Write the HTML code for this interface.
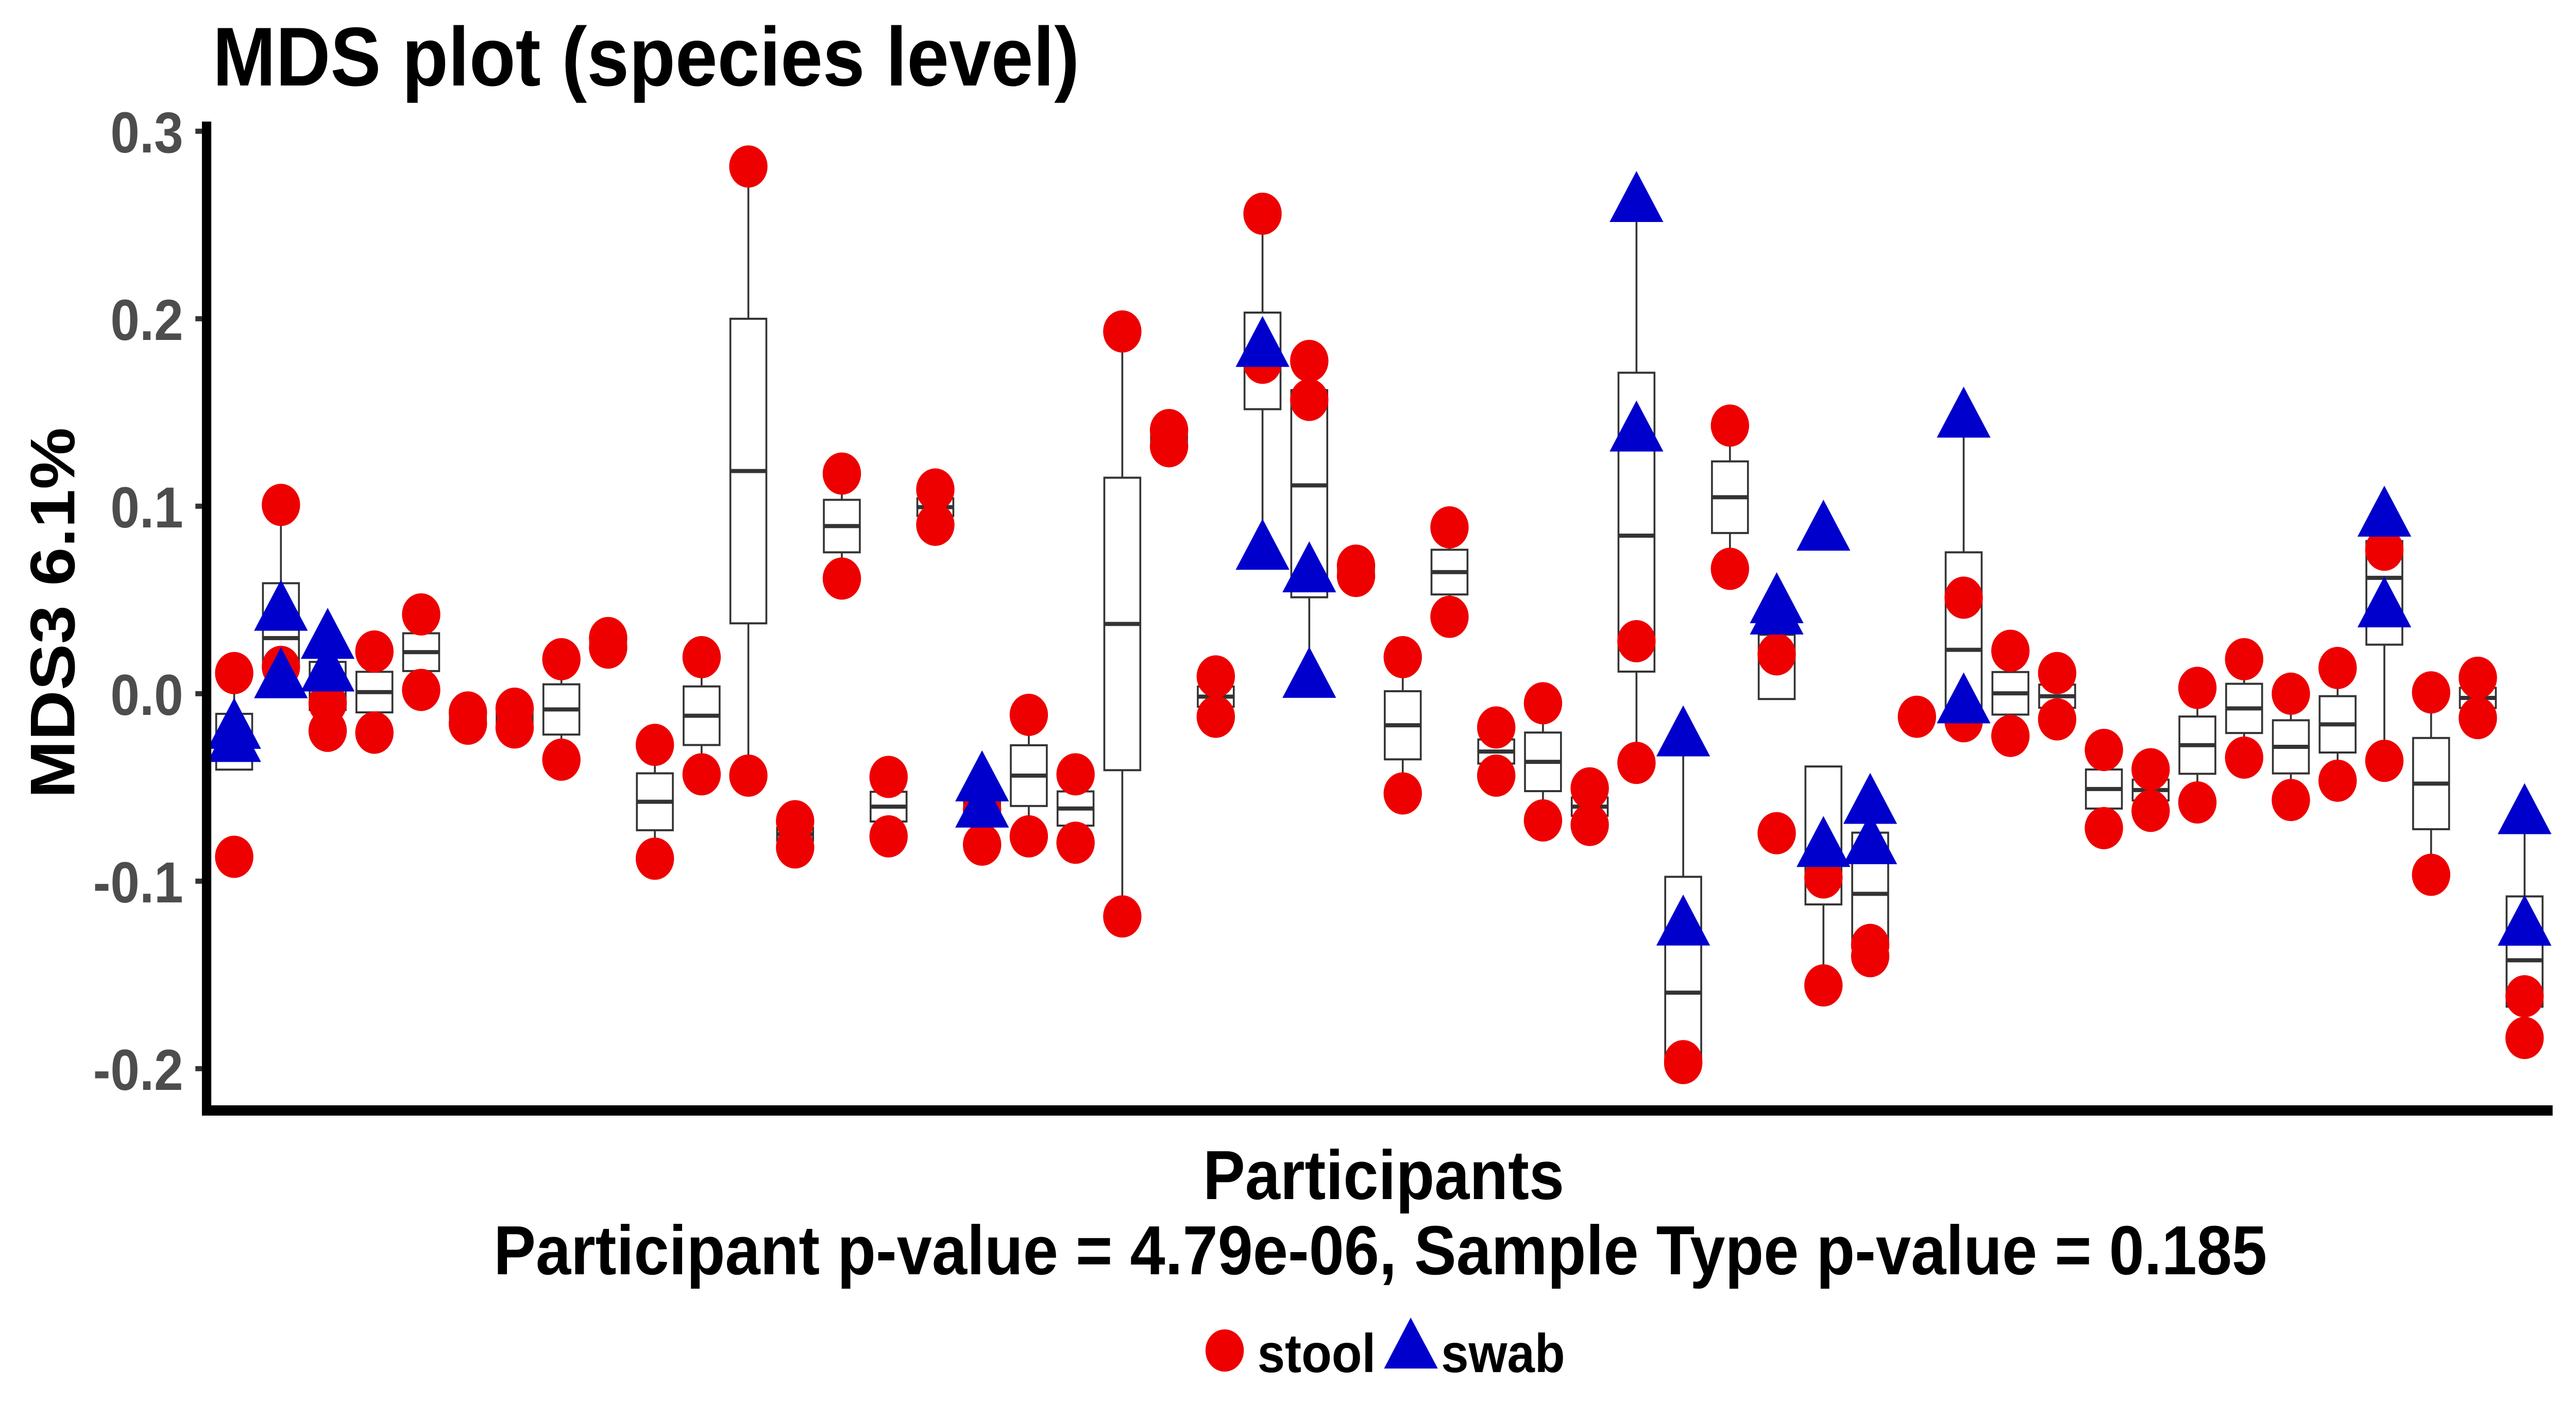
<!DOCTYPE html>
<html><head><meta charset="utf-8">
<style>
html,body{margin:0;padding:0;background:#fff;overflow:hidden;}
svg{display:block;width:100vw;height:100vh;}
text{font-family:"Liberation Sans",Arial,sans-serif;font-weight:bold;}
</style></head>
<body>
<svg id="chart" xmlns="http://www.w3.org/2000/svg" viewBox="0 0 5511 2755" preserveAspectRatio="none">
  <rect x="0" y="0" width="5511" height="2755" fill="#fff"/>
  <text x="455" y="166" font-size="162" fill="#000">MDS plot (species level)</text>
  <g id="boxes"></g>
  <g id="points"></g>
  <g id="yaxis"></g>
  <rect x="432" y="236" width="20" height="1930" fill="#000"/>
  <rect x="442" y="2146" width="5019" height="20" fill="#000"/>
  <text transform="translate(159,1190) rotate(-90)" text-anchor="middle" font-size="135" fill="#000">MDS3 6.1%</text>
  <text x="2960" y="2328" text-anchor="middle" font-size="135" fill="#000">Participants</text>
  <text x="2953" y="2474" text-anchor="middle" font-size="135" fill="#000">Participant p-value = 4.79e-06, Sample Type p-value = 0.185</text>
  <g>
    <circle cx="2620" cy="2622" r="41" fill="#EE0000"/>
    <text x="2690" y="2664" font-size="106" fill="#000">stool</text>
    <polygon points="3018,2558 2961,2657 3076,2657" fill="#0000CC"/>
    <text x="3083" y="2664" font-size="106" fill="#000">swab</text>
  </g>
</svg>
<script>
const yTicks = [0.3, 0.2, 0.1, 0.0, -0.1, -0.2];
const yTickLabels = ["0.3", "0.2", "0.1", "0.0", "-0.1", "-0.2"];
const stool = [
[0.011,-0.087],[0.1007,0.0143],[-0.005,-0.0198],[0.0225,-0.0208],[0.0423,0.002],
[-0.010,-0.016],[-0.008,-0.018],[0.0184,-0.0352],[0.0297,0.0246],[-0.0273,-0.088],
[0.0195,-0.043],[0.2812,-0.0437],[-0.068,-0.082],[0.1174,0.0614],[-0.0444,-0.0761],
[0.1089,0.0901],[-0.062,-0.0805],[-0.0113,-0.0761],[-0.043,-0.0795],[0.1932,-0.1188],
[0.1406,0.132],[0.0092,-0.0123],[0.256,0.1765],[0.1775,0.1567],[0.0683,0.0628],
[0.0195,-0.0532],[0.0887,0.041],[-0.018,-0.0437],[-0.0051,-0.0676],[-0.0505,-0.070],
[0.028,-0.0369],[-0.196,-0.197],[0.143,0.0666],[0.021,-0.0744],[-0.098,-0.1556],
[-0.134,-0.140],[-0.0123],[0.0512,-0.0147],[0.0229,-0.0225],[0.011,-0.0137],
[-0.030,-0.0717],[-0.0403,-0.0625],[0.0031,-0.058],[0.0184,-0.0341],[0,-0.0567],
[0.0137,-0.0464],[0.0768,-0.0358],[0.0007,-0.0966],[0.0085,-0.013],[-0.1614,-0.1836]
];
const swab = [
[-0.018,-0.025],[0.045,0.009],[0.030,0.0126],[],[],
[],[],[],[],[],
[],[],[],[],[],
[],[-0.046,-0.060],[],[],[],
[],[],[0.1857,0.0775],[0.0655,0.0092],[],
[],[],[],[],[],
[0.263,0.1406],[-0.022,-0.1229],[],[0.049,0.043],[0.0877,-0.081],
[-0.058,-0.0795],[],[0.148,-0.0044],[],[],
[],[],[],[],[],
[],[0.0952,0.0468],[],[],[-0.0635,-0.123]
];

function yScale(v){ return 1346.8 - v*3640; }
function xScale(i){ return 501 + 100*i; }
const NS = "http://www.w3.org/2000/svg";
function mk(tag, attrs, parent){
  const e = document.createElementNS(NS, tag);
  for (const k in attrs) e.setAttribute(k, attrs[k]);
  parent.appendChild(e);
  return e;
}
function q(s, p){
  const h = (s.length-1)*p, lo = Math.floor(h), hi = Math.ceil(h);
  return s[lo] + (h-lo)*(s[hi]-s[lo]);
}
const gY = document.getElementById('yaxis');
yTicks.forEach((t,i)=>{
  const y = yScale(t);
  const tk = mk('rect',{x:418,y:y-5,width:20,height:10,fill:'#333'},gY);
  
  
  const lb = mk('text',{x:392,y:y+41,'text-anchor':'end','font-size':112,fill:'#4d4d4d'},gY);
  lb.textContent = yTickLabels[i];
  
  
});
const gB = document.getElementById('boxes');
const gP = document.getElementById('points');
const BW = 77;
for (let i=0;i<stool.length;i++){
  const all = stool[i].concat(swab[i]).slice().sort((a,b)=>a-b);
  const q1=q(all,0.25), med=q(all,0.5), q3=q(all,0.75), iqr=q3-q1;
  const inside = all.filter(v=>v>=q1-1.5*iqr && v<=q3+1.5*iqr);
  const wlo = Math.min(...inside), whi = Math.max(...inside);
  const cx = xScale(i);
  const g = mk('g',{},gB);
  
  
  mk('line',{x1:cx,x2:cx,y1:yScale(whi),y2:yScale(q3),stroke:'#333','stroke-width':4},g);
  mk('line',{x1:cx,x2:cx,y1:yScale(q1),y2:yScale(wlo),stroke:'#333','stroke-width':4},g);
  mk('rect',{x:cx-BW/2,y:yScale(q3),width:BW,height:Math.max(0.5,yScale(q1)-yScale(q3)),fill:'#fff',stroke:'#333','stroke-width':4},g);
  mk('line',{x1:cx-BW/2,x2:cx+BW/2,y1:yScale(med),y2:yScale(med),stroke:'#333','stroke-width':8},g);
}
for (let i=0;i<stool.length;i++){
  stool[i].forEach(v=>{
    const c = mk('circle',{cx:xScale(i),cy:yScale(v),r:41,fill:'#EE0000'},gP);
    
    
  });
}
const TH = 99, TW = 115;
for (let i=0;i<swab.length;i++){
  swab[i].forEach(v=>{
    const x = xScale(i), y = yScale(v);
    const p = mk('polygon',{points:`${x},${y-0.58*TH} ${x-TW/2},${y+0.42*TH} ${x+TW/2},${y+0.42*TH}`,fill:'#0000CC'},gP);
    
    
  });
}
</script>
</body></html>
